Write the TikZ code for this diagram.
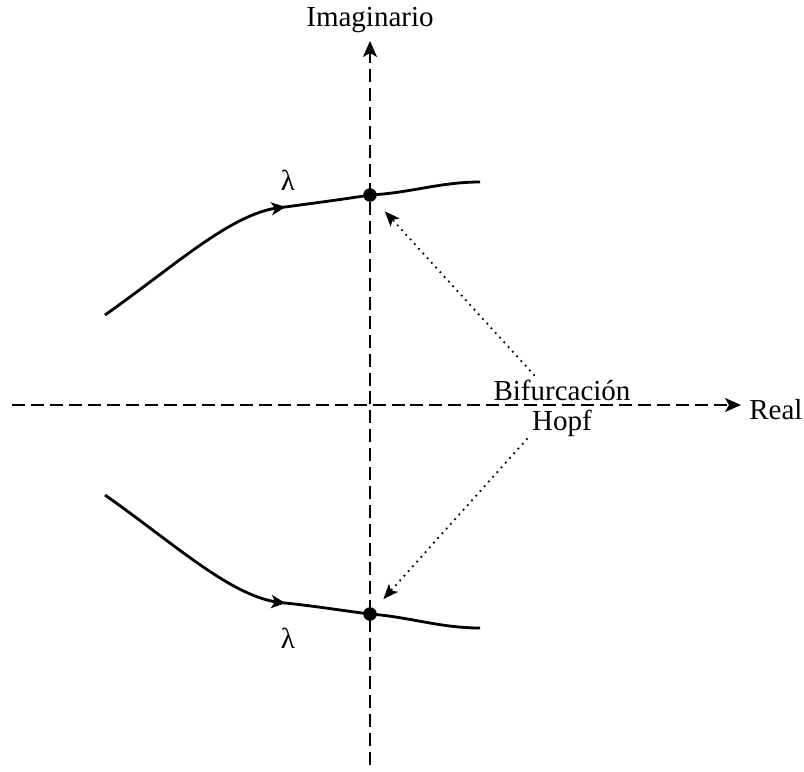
\documentclass[tikz,border=0pt]{standalone}
\usepackage{fontspec}
\setmainfont{Liberation Serif}
\usetikzlibrary{arrows.meta,positioning,decorations.markings}

\begin{document}
\begin{tikzpicture}[
  x=0.02cm,y=-0.02cm,
  every node/.style={font=\fontsize{16.5}{17}\selectfont},
  axis/.style={-{Stealth[length=0.32cm,width=0.28cm,inset=0.08cm]},line width=0.9pt,dash pattern=on 7.4pt off 3.4pt},
  curve/.style={line width=1.6pt,postaction={decorate},decoration={markings,mark=at position 0.52 with {\arrow{Stealth[length=0.28cm,width=0.26cm,inset=0.07cm]}}}},
  dot/.style={circle,fill=black,inner sep=0pt,minimum size=0.27cm},
  hopfarrow/.style={-{Stealth[length=0.3cm,width=0.24cm,inset=0.07cm]},line width=1pt,dash pattern=on 1pt off 2.6pt}
]
\useasboundingbox (0,0) rectangle (804,771);

\coordinate (xl) at (12,405);
\coordinate (xr) at (741,405);
\coordinate (yb) at (370,765);
\coordinate (yt) at (370,41);
\node (imag) at (370,20) {Imaginario};
\node[anchor=west,inner sep=0pt] (real) at (749,410) {Real};

\node[dot] (hopfU) at (370,195) {};
\node[dot] (hopfL) at (370,614) {};
\coordinate (u0) at (105,315);
\coordinate (u3) at (480,182);
\coordinate (l0) at (105,495);
\coordinate (l3) at (480,628);
\node (lamU) at (288,180) {λ};
\node (lamL) at (288,638) {λ};
\node[align=center,inner sep=0pt] (bif) at (562,408) {Bifurcación\\Hopf};

\draw[axis] (xl) -- (xr);
\draw[axis] (yb) -- (yt);
\draw[curve] (u0) .. controls (180,262) and (235,210) .. (285,207) .. controls (315,203) and (345,199) .. (hopfU.center) .. controls (410,193) and (440,182) .. (u3);
\draw[curve] (l0) .. controls (180,548) and (235,600) .. (285,603) .. controls (315,606) and (345,611) .. (hopfL.center) .. controls (410,617) and (440,628) .. (l3);
\draw[hopfarrow,shorten <=0.1cm,shorten >=0.3cm] (bif.130) -- (hopfU);
\draw[hopfarrow,shorten <=0.05cm,shorten >=0.26cm] (bif.221) -- (hopfL);
\end{tikzpicture}
\end{document}
